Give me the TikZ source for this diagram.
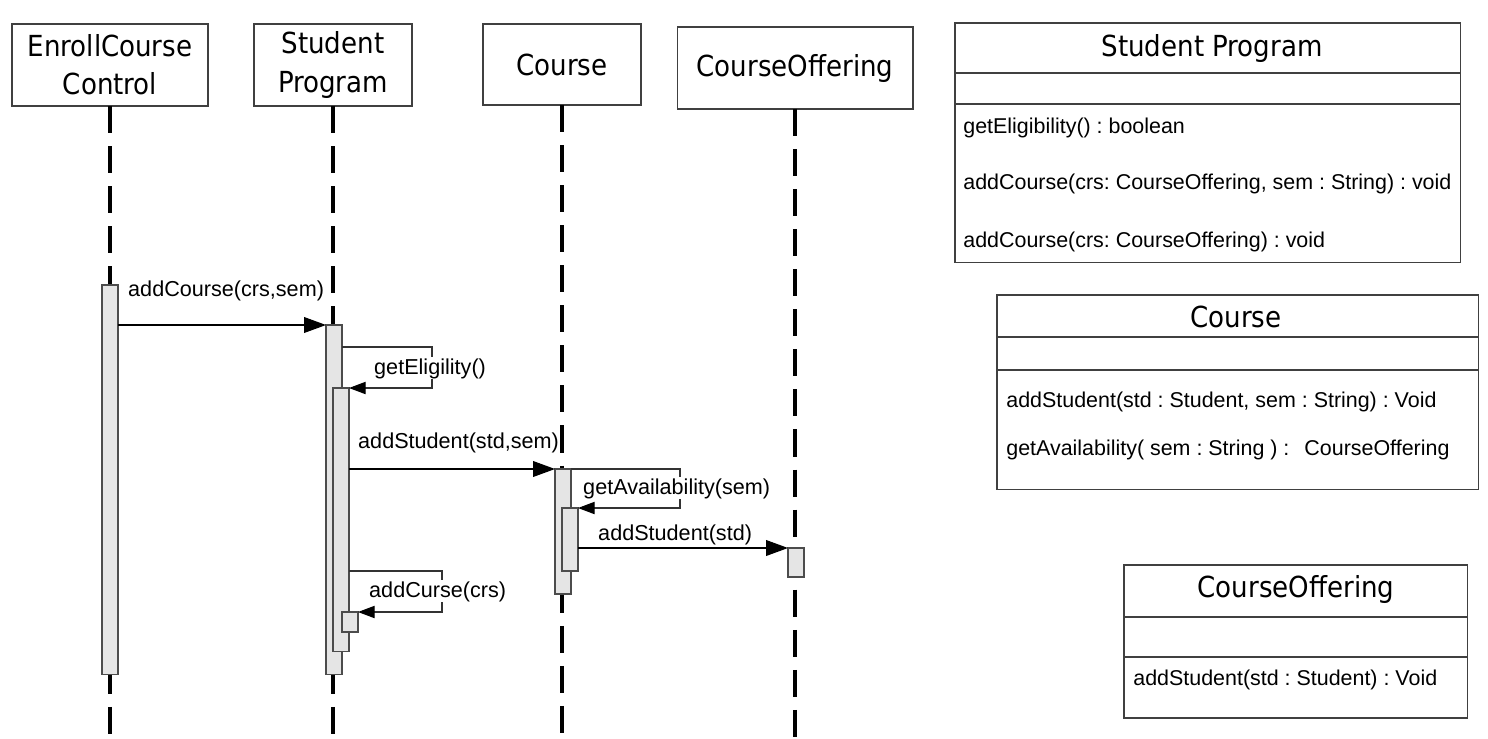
\documentclass[tikz,border=0pt]{standalone}
\usepackage{fontspec}
\setmainfont{Liberation Sans}
\newfontfamily\headfont{DejaVu Sans Condensed}
\usetikzlibrary{arrows.meta,positioning}
\frenchspacing

\begin{document}
\begin{tikzpicture}[
    x=0.02cm, y=-0.02cm,
    % Style for the lifeline heads
    head/.style={draw=black!75, line width=0.6pt, align=center,
        font=\headfont\fontsize{16.5}{21.6}\selectfont, inner sep=0pt, outer sep=0pt},
    % Style for the dashed lifelines
    lifeline/.style={line width=2pt, dash pattern=on 15.4pt off 7.4pt},
    % Style for the grey activation bars
    act/.style={draw=black!70, fill=black!10, line width=0.6pt, minimum width=0.32cm,
        inner sep=0pt, outer sep=0pt, anchor=north west},
    % Styles for the messages
    msg/.style={line width=0.6pt, -{Triangle[length=12.5pt,width=9pt]}},
    selfmsg/.style={draw=black!80, line width=0.6pt, -{Triangle[length=9.5pt,width=7pt,black]}},
    msglabel/.style={font=\fontsize{12.3}{14}\selectfont, fill=white, inner sep=0.5pt, anchor=base west},
    % Styles for the class boxes
    classbox/.style={draw=black!75, line width=0.6pt, inner sep=0pt, outer sep=0pt, anchor=north west},
    classline/.style={draw=black!75, line width=0.6pt},
    classname/.style={font=\headfont\fontsize{16.5}{20}\selectfont, inner sep=0pt, anchor=base},
    operation/.style={font=\fontsize{12.2}{14}\selectfont, inner sep=0pt, anchor=base west}
]
    \useasboundingbox (0,0) rectangle (1488,738);

    % --- 1. Lifeline Heads ---
    \node[head, minimum width=3.92cm, minimum height=1.64cm] (enroll) at (110,65) {EnrollCourse\\Control};
    \node[head, minimum width=3.16cm, minimum height=1.64cm] (student) at (333,65) {Student\\[1pt]Program};
    \node[head, minimum width=3.16cm, minimum height=1.62cm] (course) at (562,64.5) {Course};
    \node[head, minimum width=4.72cm, minimum height=1.64cm] (offering) at (795,68) {CourseOffering};

    % --- 2. Lifelines ---
    % Drawn first so the bars cover them
    \coordinate (bottom) at (0,738);
    \draw[lifeline] (enroll.south) -- (enroll.south |- bottom);
    \draw[lifeline] (student.south) -- (student.south |- bottom);
    \draw[lifeline] (course.south) -- (course.south |- bottom);
    \draw[lifeline] (offering.south) -- (offering.south |- bottom);

    % --- 3. Activation Bars ---
    \node[act, minimum height=7.8cm] (actEnroll) at (102,285) {};
    \node[act, minimum height=7.0cm] (actStu) at (326,325) {};
    \node[act, minimum height=5.28cm] (actStuIn) at (333,388) {};
    \node[act, minimum height=0.4cm] (actStuSub) at (342,612) {};
    \node[act, minimum height=2.5cm] (actCrs) at (555,469) {};
    \node[act, minimum height=1.26cm] (actCrsIn) at (562,508) {};
    \node[act, minimum height=0.58cm] (actOff) at (788,548) {};

    % --- 4. Messages ---
    % labels are drawn on white, over the turning lines
    \draw[msg] (actEnroll.east |- actStu.north) -- (actStu.north west);
    \node[msglabel] (lblAddCourse) at (127,296) {addCourse(crs,sem)};

    \coordinate (turnElig) at (432,347);
    \draw[selfmsg] (actStu.east |- turnElig) -- (turnElig) |- (actStuIn.north east);
    \node[msglabel] (lblElig) at (373,374) {getEligility()};

    \draw[msg] (actStuIn.east |- actCrs.north) -- (actCrs.north west);
    \node[msglabel] (lblAddStd) at (357,448) {addStudent(std,sem)};

    \coordinate (turnAvail) at (680,469);
    \draw[selfmsg] (actCrs.north east) -- (turnAvail) |- (actCrsIn.north east);
    \node[msglabel] (lblAvail) at (582,494) {getAvailability(sem)};

    \draw[msg] (actCrsIn.east |- actOff.north) -- (actOff.north west);
    \node[msglabel] (lblAddStd2) at (597,540) {addStudent(std)};

    \coordinate (turnCurse) at (442,571);
    \draw[selfmsg] (actStuIn.east |- turnCurse) -- (turnCurse) |- (actStuSub.north east);
    \node[msglabel] (lblCurse) at (368,597) {addCurse(crs)};

    % --- 5. Class Boxes ---
    % Student Program
    \node[classbox, minimum width=10.12cm, minimum height=4.8cm] (spClass) at (955,23) {};
    \coordinate (spDivA) at (0,73);
    \coordinate (spDivB) at (0,104);
    \draw[classline] (spClass.west |- spDivA) -- (spClass.east |- spDivA);
    \draw[classline] (spClass.west |- spDivB) -- (spClass.east |- spDivB);
    \node[classname] (spName) at (1212,56) {Student Program};
    \node[operation] (spOpA) at (963,133) {getEligibility() : boolean};
    \node[operation] (spOpB) at (963,189) {addCourse(crs: CourseOffering, sem : String) : void};
    \node[operation] (spOpC) at (963,247) {addCourse(crs: CourseOffering) : void};

    % Course
    \node[classbox, minimum width=9.64cm, minimum height=3.9cm] (crsClass) at (997,295) {};
    \coordinate (crsDivA) at (0,337);
    \coordinate (crsDivB) at (0,370);
    \draw[classline] (crsClass.west |- crsDivA) -- (crsClass.east |- crsDivA);
    \draw[classline] (crsClass.west |- crsDivB) -- (crsClass.east |- crsDivB);
    \node[classname] (crsName) at (1236,327) {Course};
    \node[operation] (crsOpA) at (1006,407) {addStudent(std : Student, sem : String) : Void};
    \node[operation] (crsOpB) at (1006,455) {getAvailability( sem : String ) :\hspace{0.7em}CourseOffering};

    % CourseOffering
    \node[classbox, minimum width=6.88cm, minimum height=3.06cm] (offClass) at (1124,565) {};
    \coordinate (offDivA) at (0,617);
    \coordinate (offDivB) at (0,657);
    \draw[classline] (offClass.west |- offDivA) -- (offClass.east |- offDivA);
    \draw[classline] (offClass.west |- offDivB) -- (offClass.east |- offDivB);
    \node[classname] (offName) at (1296,597) {CourseOffering};
    \node[operation] (offOpA) at (1133,685) {addStudent(std : Student) : Void};

\end{tikzpicture}
\end{document}
